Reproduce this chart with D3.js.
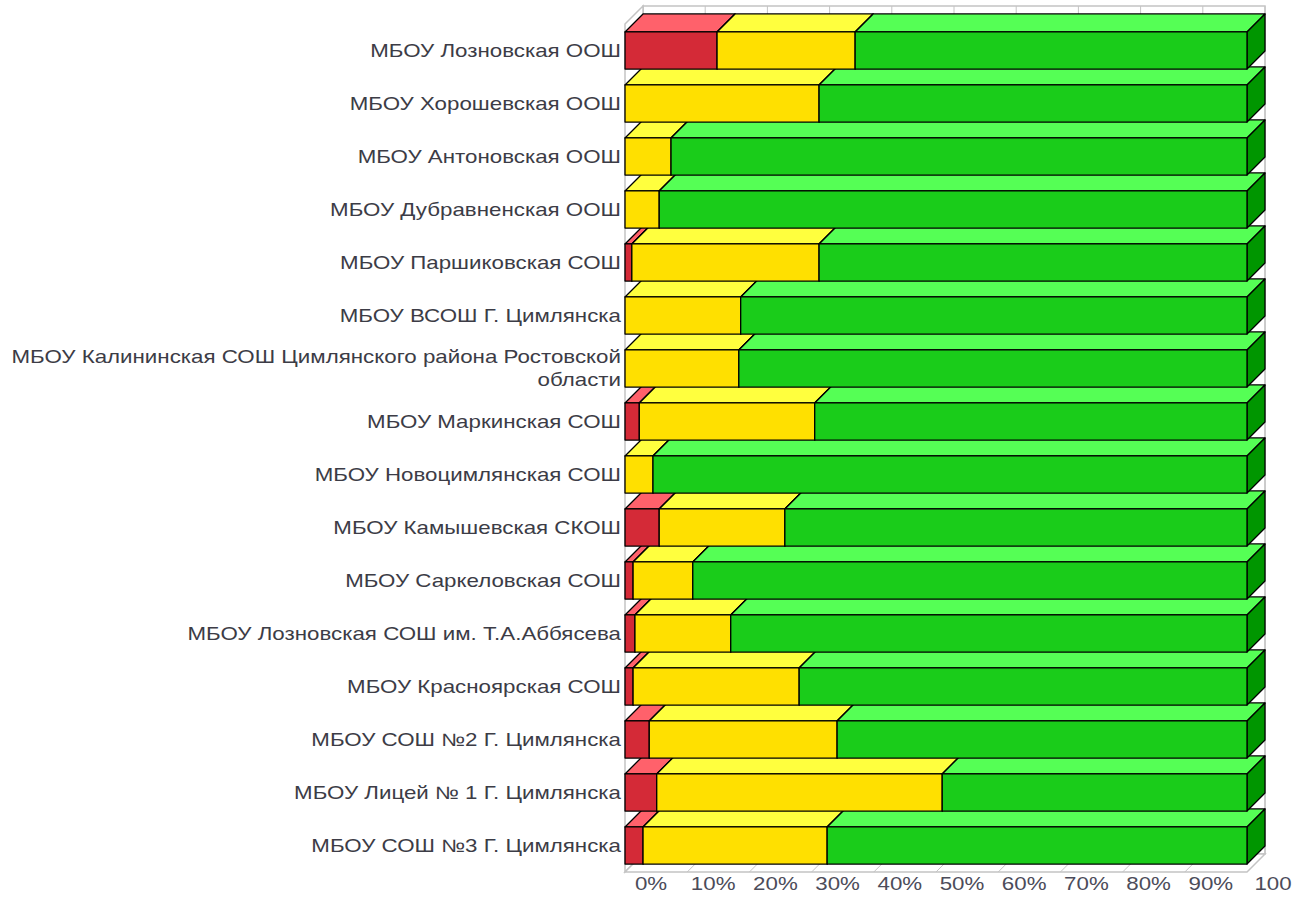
<!DOCTYPE html>
<html>
<head>
<meta charset="utf-8">
<script src="https://cdn.jsdelivr.net/npm/d3@7"></script>
<style>
  html, body { margin: 0; padding: 0; background: #ffffff; }
  svg { display: block; }
  text { font-family: "Liberation Sans", Arial, sans-serif; }
</style>
</head>
<body>
<div id="chart"></div>
<script>
// ---------- data ----------
const categories = [
  "МБОУ Лозновская ООШ",
  "МБОУ Хорошевская ООШ",
  "МБОУ Антоновская ООШ",
  "МБОУ Дубравненская ООШ",
  "МБОУ Паршиковская СОШ",
  "МБОУ ВСОШ Г. Цимлянска",
  "МБОУ Калининская СОШ Цимлянского района Ростовской области",
  "МБОУ Маркинская СОШ",
  "МБОУ Новоцимлянская СОШ",
  "МБОУ Камышевская СКОШ",
  "МБОУ Саркеловская СОШ",
  "МБОУ Лозновская СОШ им. Т.А.Аббясева",
  "МБОУ Красноярская СОШ",
  "МБОУ СОШ №2 Г. Цимлянска",
  "МБОУ Лицей № 1 Г. Цимлянска",
  "МБОУ СОШ №3 Г. Цимлянска"
];
const redValues    = [14.8, 0, 0, 0, 1.1, 0, 0, 2.3, 0, 5.5, 1.3, 1.6, 1.3, 3.9, 5.1, 2.9];
const yellowValues = [22.2, 31.2, 7.4, 5.5, 30.1, 18.6, 18.3, 28.2, 4.5, 20.2, 9.6, 15.4, 26.7, 30.2, 45.9, 29.6];
const greenValues  = [63.0, 68.8, 92.6, 94.5, 68.8, 81.4, 81.7, 69.5, 95.5, 74.3, 89.1, 83.0, 72.0, 65.9, 49.0, 67.5];
const tickValues = [0, 10, 20, 30, 40, 50, 60, 70, 80, 90, 100];
const tickLabels = ["0%", "10%", "20%", "30%", "40%", "50%", "60%", "70%", "80%", "90%", "100"];

// ---------- layout ----------
const W = 1293, H = 899;
const depth = 18;             // 3D offset (right / up)
const plotLeft = 625, plotRight = 1247;
const plotTop = 24, plotBottom = 872;
const fontSize = 18, textScaleX = 1.24;

const svg = d3.select("#chart").append("svg").attr("width", W).attr("height", H);

const x = d3.scaleLinear().domain([0, 100]).range([plotLeft, plotRight]);
const y = d3.scaleBand().domain(categories).range([plotTop, plotBottom])
  .paddingInner(0.3).paddingOuter(0.15);

const keys = ["red", "yellow", "green"];
const table = categories.map((c, i) => ({cat: c, red: redValues[i], yellow: yellowValues[i], green: greenValues[i]}));
const stack = d3.stack().keys(keys)(table);

const colors = {
  red:    {front: "#d42a37", top: "#ff616b", side: "#a01820"},
  yellow: {front: "#ffe000", top: "#ffff3e", side: "#c8a800"},
  green:  {front: "#1acc1a", top: "#55ff55", side: "#009600"}
};

const wallStroke = "#c4c4c4";
const gWalls = svg.append("g");

// back wall
gWalls.append("rect")
  .attr("x", plotLeft + depth).attr("y", plotTop - depth)
  .attr("width", plotRight - plotLeft).attr("height", plotBottom - plotTop)
  .attr("fill", "#ffffff").attr("stroke", wallStroke).attr("stroke-width", 1.5);
// back-wall grid
gWalls.selectAll("line.grid").data(tickValues).join("line")
  .attr("class", "grid")
  .attr("x1", d => x(d) + depth).attr("x2", d => x(d) + depth)
  .attr("y1", plotTop - depth).attr("y2", plotBottom - depth)
  .attr("stroke", wallStroke).attr("stroke-width", 1);

// left wall
gWalls.append("path")
  .attr("d", `M${plotLeft},${plotTop} L${plotLeft + depth},${plotTop - depth} L${plotLeft + depth},${plotBottom - depth} L${plotLeft},${plotBottom} Z`)
  .attr("fill", "#ffffff").attr("stroke", wallStroke).attr("stroke-width", 1.5);

// floor
gWalls.append("path")
  .attr("d", `M${plotLeft},${plotBottom} L${plotRight},${plotBottom} L${plotRight + depth},${plotBottom - depth} L${plotLeft + depth},${plotBottom - depth} Z`)
  .attr("fill", "#ffffff").attr("stroke", wallStroke).attr("stroke-width", 1.5);
gWalls.selectAll("line.floortick").data(tickValues).join("line")
  .attr("class", "floortick")
  .attr("x1", d => x(d)).attr("y1", plotBottom)
  .attr("x2", d => x(d) + depth).attr("y2", plotBottom - depth)
  .attr("stroke", wallStroke).attr("stroke-width", 1);

// ---------- bars (draw bottom rows first, segments left to right) ----------
const gBars = svg.append("g");
const order = categories.map((c, i) => i).reverse();
order.forEach(i => {
  const c = categories[i];
  const y0 = y(c), h = y.bandwidth();
  keys.forEach((k, ki) => {
    const seg = stack[ki][i];
    if (seg[1] - seg[0] <= 0) return;
    const xa = x(seg[0]), xb = x(seg[1]);
    const col = colors[k];
    const g = gBars.append("g").attr("stroke", "#000").attr("stroke-width", 1.3).attr("stroke-linejoin", "round");
    // top face
    g.append("path")
      .attr("d", `M${xa},${y0} L${xb},${y0} L${xb + depth},${y0 - depth} L${xa + depth},${y0 - depth} Z`)
      .attr("fill", col.top);
    // right side face
    g.append("path")
      .attr("d", `M${xb},${y0} L${xb + depth},${y0 - depth} L${xb + depth},${y0 + h - depth} L${xb},${y0 + h} Z`)
      .attr("fill", col.side);
    // front face
    g.append("rect")
      .attr("x", xa).attr("y", y0).attr("width", xb - xa).attr("height", h)
      .attr("fill", col.front);
  });
});

// ---------- category labels ----------
const gLabels = svg.append("g");
const labelRight = 621;
const maxWidth = 615;
categories.forEach(c => {
  const cy = y(c) + y.bandwidth() / 2;
  // wrap by measured width
  const probe = gLabels.append("text").attr("font-size", fontSize);
  const words = c.split(" ");
  const lines = [];
  let cur = "";
  words.forEach(w => {
    const test = cur ? cur + " " + w : w;
    probe.text(test);
    if (probe.node().getComputedTextLength() * textScaleX > maxWidth && cur) {
      lines.push(cur); cur = w;
    } else cur = test;
  });
  lines.push(cur);
  probe.remove();
  const lh = 23;
  lines.forEach((ln, li) => {
    const ly = cy + (li - (lines.length - 1) / 2) * lh;
    gLabels.append("text")
      .attr("transform", `translate(${labelRight},${ly}) scale(${textScaleX},1)`)
      .attr("text-anchor", "end")
      .attr("dominant-baseline", "central")
      .attr("font-size", fontSize)
      .attr("fill", "#3c3c46")
      .text(ln);
  });
});

// ---------- x tick labels ----------
const gTicks = svg.append("g");
tickValues.forEach((v, i) => {
  gTicks.append("text")
    .attr("transform", `translate(${x(v) + 26},${884}) scale(${textScaleX},1)`)
    .attr("text-anchor", "middle")
    .attr("dominant-baseline", "central")
    .attr("font-size", fontSize)
    .attr("fill", "#4c4c5a")
    .text(tickLabels[i]);
});
</script>
</body>
</html>
